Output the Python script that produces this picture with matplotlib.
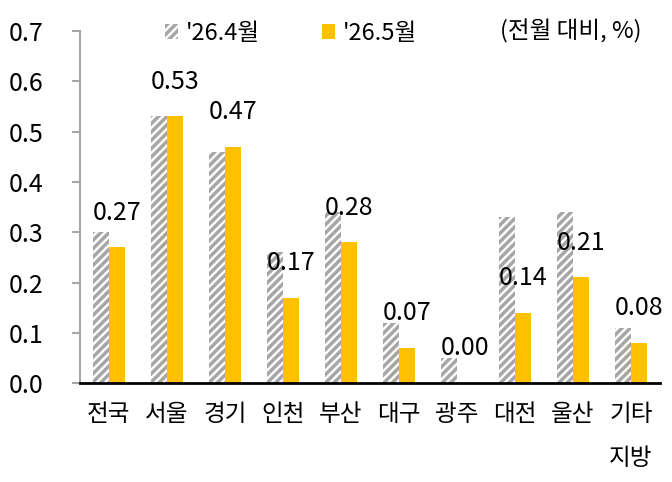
import numpy as np
import matplotlib
matplotlib.use('Agg')
import matplotlib.pyplot as plt

plt.rcParams['font.family'] = ['Noto Sans CJK KR', 'DejaVu Sans']
plt.rcParams['hatch.linewidth'] = 2.5

# data
regions = ['전국', '서울', '경기', '인천', '부산', '대구', '광주', '대전', '울산', '기타\n지방']
apr = [0.30, 0.53, 0.46, 0.26, 0.34, 0.12, 0.05, 0.33, 0.34, 0.11]
may = [0.27, 0.53, 0.47, 0.17, 0.28, 0.07, 0.00, 0.14, 0.21, 0.08]
series_names = ["'26.4월", "'26.5월"]

fig = plt.figure(figsize=(6.72, 4.82), dpi=100)
ax = fig.add_axes([0.119, 0.205, 0.863, 0.731])

x = np.arange(len(regions))
w = 0.28
b1 = ax.bar(x - w/2, apr, w, color='white', edgecolor='#A6A6A6', hatch='////',
            linewidth=0, label=series_names[0])
b2 = ax.bar(x + w/2, may, w, color='#FFC000', linewidth=0, label=series_names[1])

# value labels above the May bars
for xi, v in zip(x, may):
    ax.annotate('%.2f' % v, (xi + w/2, v), xytext=(0, 25), textcoords='offset points',
                ha='center', va='center', fontsize=18)

ax.set_xlim(-0.5, len(regions) - 0.5)
ax.set_ylim(0, 0.7)
ax.set_yticks(np.arange(0, 0.71, 0.1))
ax.set_yticklabels(['%.1f' % t for t in np.arange(0, 0.71, 0.1)], fontsize=18)
ax.set_xticks(x)
ax.set_xticklabels(regions, fontsize=17, linespacing=2.2)

for s in ['top', 'right']:
    ax.spines[s].set_visible(False)
ax.spines['left'].set_color('#A6A6A6')
ax.spines['left'].set_linewidth(1.5)
ax.spines['bottom'].set_color('black')
ax.spines['bottom'].set_linewidth(2)
ax.tick_params(axis='y', length=6, width=1.5, color='#A6A6A6', pad=20)
ax.tick_params(axis='x', length=0, pad=14)

leg = ax.legend(loc='upper left', bbox_to_anchor=(0.11, 1.085), ncol=2, frameon=False,
                fontsize=17, handlelength=0.55, handleheight=0.6, handletextpad=0.35,
                columnspacing=2.6)
ax.text(0.969, 1.0, '(전월 대비, %)', transform=ax.transAxes, ha='right', va='center',
        fontsize=17)

fig.savefig('out.png', dpi=100)
